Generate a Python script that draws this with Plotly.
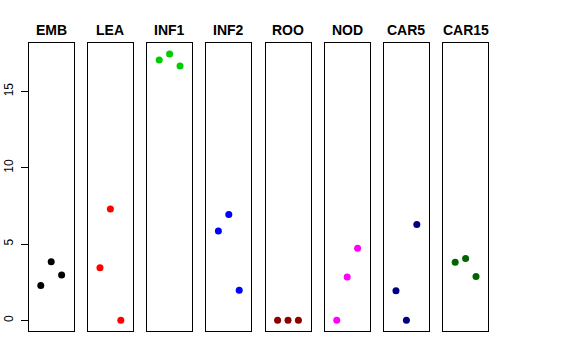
import plotly.graph_objects as go

categories = ["EMB", "LEA", "INF1", "INF2", "ROO", "NOD", "CAR5", "CAR15"]
replicate = [1, 2, 3]
values = {
    "EMB":   [2.29, 3.84, 2.97],
    "LEA":   [3.45, 7.29, 0.0],
    "INF1":  [17.07, 17.46, 16.67],
    "INF2":  [5.85, 6.94, 1.98],
    "ROO":   [0.0, 0.0, 0.0],
    "NOD":   [0.0, 2.84, 4.73],
    "CAR5":  [1.94, 0.0, 6.29],
    "CAR15": [3.80, 4.06, 2.88],
}
colors = ["#000000", "#FF0000", "#00CD00", "#0000FF", "#8B0000", "#FF00FF", "#000080", "#006400"]
y_ticks = [0, 5, 10, 15]

W, H = 576, 360
left0, step, pw = 28.7, 59.2, 45.0
top_px, bot_px = 43.3, 331.0
title_px = 30.0

ymax = max(max(v) for v in values.values())
ymin = 0.0
pad = 0.04 * (ymax - ymin)
yrange = [ymin - pad, ymax + pad]
xrange = [0 - 0.16, 4 + 0.16]

fig = go.Figure()
annotations = []
for i, cat in enumerate(categories):
    xa = "x" if i == 0 else f"x{i+1}"
    ya = "y" if i == 0 else f"y{i+1}"
    fig.add_trace(go.Scatter(
        x=replicate, y=values[cat], mode="markers",
        marker=dict(color=colors[i], size=7),
        xaxis=xa, yaxis=ya, showlegend=False, hoverinfo="skip",
    ))
    x0 = (left0 + step * i) / W
    x1 = (left0 + step * i + pw) / W
    xkey = "xaxis" if i == 0 else f"xaxis{i+1}"
    ykey = "yaxis" if i == 0 else f"yaxis{i+1}"
    fig.layout[xkey] = dict(
        domain=[x0, x1], range=xrange, showgrid=False, zeroline=False,
        showticklabels=False, ticks="", showline=True, mirror=True,
        linecolor="#000000", linewidth=1, anchor=ya, fixedrange=True,
        automargin=False,
    )
    ydict = dict(
        domain=[1 - bot_px / H, 1 - top_px / H], range=yrange, showgrid=False,
        zeroline=False, showline=True, mirror=True, linecolor="#000000",
        linewidth=1, anchor=xa, fixedrange=True, automargin=False,
    )
    if i == 0:
        ydict.update(tickvals=y_ticks, ticktext=[str(t) for t in y_ticks],
                     ticks="outside", ticklen=7, tickcolor="#000000",
                     tickangle=-90, showticklabels=True,
                     tickfont=dict(family="Liberation Sans, Arial", size=12, color="#000000"),
                     ticklabelstandoff=3)
    else:
        ydict.update(showticklabels=False, ticks="")
    fig.layout[ykey] = ydict
    annotations.append(dict(
        text=f"<b>{cat}</b>", x=(x0 + x1) / 2, y=1 - title_px / H,
        xref="paper", yref="paper", showarrow=False,
        xanchor="center", yanchor="middle",
        font=dict(family="Liberation Sans, Arial", size=14, color="#000000"),
    ))

fig.update_layout(
    width=W, height=H, margin=dict(l=0, r=0, t=0, b=0),
    paper_bgcolor="white", plot_bgcolor="white",
    annotations=annotations, hovermode=False,
)
fig.write_html("out.html", config={"displayModeBar": False},
               post_script="document.body.style.margin='0px';")
